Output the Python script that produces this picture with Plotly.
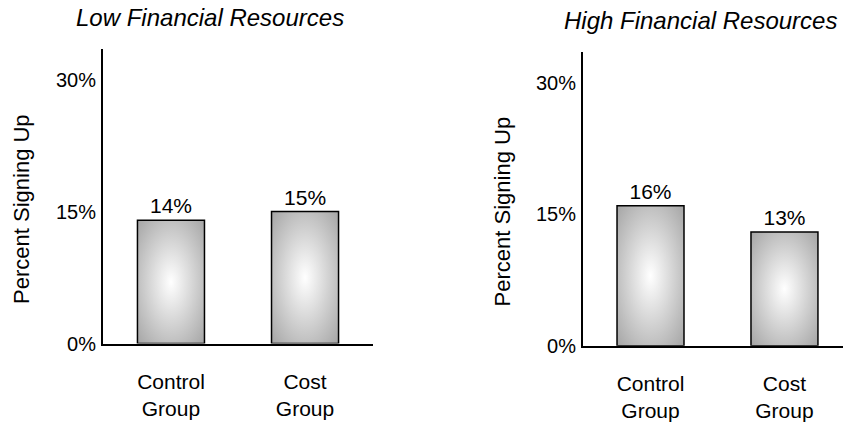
import base64
import plotly.graph_objects as go

# Data
groups = ["Control<br>Group", "Cost<br>Group"]
low_resources = [14, 15]
high_resources = [16, 13]
panel_titles = ["Low Financial Resources", "High Financial Resources"]
y_ticks = [0, 15, 30]
y_tick_labels = ["0%", "15%", "30%"]

FONT = "Liberation Sans, Arial, Helvetica, sans-serif"
BAR_WIDTH = 0.5

# Radial grey gradient used as the bar fill
svg = (
    "<svg xmlns='http://www.w3.org/2000/svg' width='100' height='100' "
    "viewBox='0 0 100 100' preserveAspectRatio='none'>"
    "<defs><radialGradient id='g' cx='50%' cy='50%' r='71%'>"
    "<stop offset='0' stop-color='#ffffff'/>"
    "<stop offset='1' stop-color='#a4a4a4'/>"
    "</radialGradient></defs>"
    "<rect width='100' height='100' fill='url(#g)'/></svg>"
)
gradient_src = "data:image/svg+xml;base64," + base64.b64encode(svg.encode()).decode()

fig = go.Figure()

panels = [
    ("x", "y", low_resources),
    ("x2", "y2", high_resources),
]

images = []
for xa, ya, vals in panels:
    fig.add_trace(go.Bar(
        x=[0, 1], y=vals, xaxis=xa, yaxis=ya,
        width=BAR_WIDTH,
        marker=dict(color="rgba(0,0,0,0)", line=dict(color="black", width=1.5)),
        text=[f"{v}%" for v in vals], textposition="outside",
        textfont=dict(family=FONT, size=21, color="black"),
        constraintext="none", cliponaxis=False,
        hoverinfo="skip", showlegend=False,
    ))
    for i, v in enumerate(vals):
        images.append(dict(
            source=gradient_src, xref=xa, yref=ya,
            x=i - BAR_WIDTH / 2, y=v, sizex=BAR_WIDTH, sizey=v,
            xanchor="left", yanchor="top", sizing="stretch", layer="below",
        ))

W, H = 843, 425

def xaxis(domain, rng):
    return dict(
        domain=domain, range=rng, tickmode="array", tickvals=[0, 1],
        ticktext=groups, showline=True, linecolor="black", linewidth=2,
        ticks="", showgrid=False, zeroline=False, fixedrange=True,
        tickfont=dict(family=FONT, size=21, color="black"),
        ticklabelstandoff=18,
    )

def yaxis(domain, rng):
    return dict(
        domain=domain, range=rng, tickmode="array", tickvals=y_ticks,
        ticktext=y_tick_labels, showline=True, linecolor="black", linewidth=2,
        ticks="", showgrid=False, zeroline=False, fixedrange=True,
        tickfont=dict(family=FONT, size=20, color="black"),
        ticklabelstandoff=1,
    )

fig.update_layout(
    width=W, height=H,
    margin=dict(l=0, r=0, t=0, b=0),
    paper_bgcolor="white", plot_bgcolor="rgba(0,0,0,0)",
    bargap=0.5,
    xaxis=xaxis([103 / W, 373 / W], [-0.507, 1.507]),
    yaxis=yaxis([(H - 352.7) / H, (H - 50) / H], [0, 33.5]),
    xaxis2=xaxis([583 / W, 1.0], [-0.504, 1.437]),
    yaxis2=yaxis([(H - 355) / H, (H - 53) / H], [0, 33.6]),
    images=images,
    hovermode=False,
)
fig.update_layout(xaxis2_anchor="y2", yaxis2_anchor="x2")

# Panel titles
for title, xc, yc in [(panel_titles[0], 210, 18), (panel_titles[1], 700, 21)]:
    fig.add_annotation(
        text=f"<i>{title}</i>", xref="paper", yref="paper",
        x=xc / W, y=1 - yc / H, xanchor="center", yanchor="middle",
        showarrow=False, font=dict(family=FONT, size=24, color="black"),
    )

# Y-axis titles
for xc, yc in [(22, 214.5), (502, 217)]:
    fig.add_annotation(
        text="Percent Signing Up", xref="paper", yref="paper",
        x=xc / W, y=1 - yc / H, xanchor="center", yanchor="middle",
        textangle=-90, showarrow=False,
        font=dict(family=FONT, size=22, color="black"),
    )

fig.write_html("out.html")
